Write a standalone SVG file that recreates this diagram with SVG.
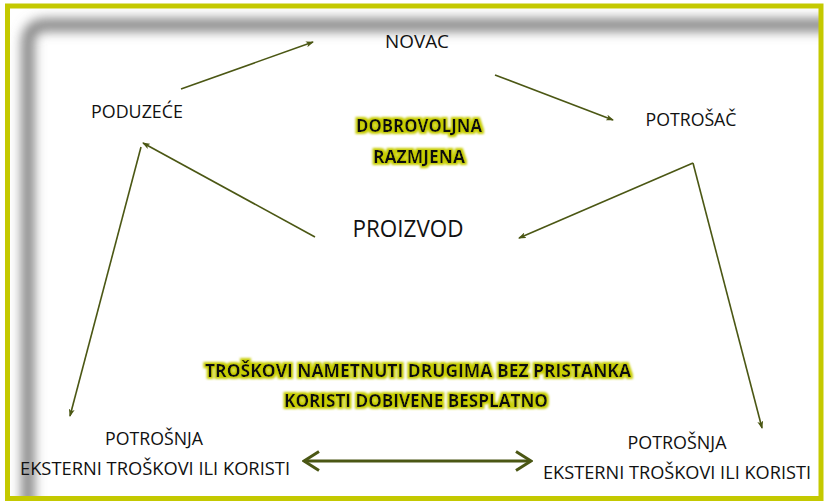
<svg xmlns="http://www.w3.org/2000/svg" width="824" height="502" viewBox="0 0 824 502">
  <style>
    .lbl { font-family: "Open Sans", Lato, "Liberation Sans", sans-serif; font-size: 17.5px; fill: #111; text-anchor: middle; }
    .big { font-size: 23px; }
    .hl { font-weight: bold; font-size: 17.5px; filter: url(#glow); }
    .conn { fill: none; stroke: #4b5714; stroke-width: 1.6; marker-end: url(#tip); }
    .dbl { fill: none; stroke: #4b5714; stroke-width: 3; marker-start: url(#chev); marker-end: url(#chev); }
  </style>
  <defs>
    <marker id="tip" markerUnits="userSpaceOnUse" viewBox="0 0 8 6" refX="7" refY="3" markerWidth="8" markerHeight="6" orient="auto">
      <path d="M0,0 L8,3 L0,6 L2,3 z" fill="#4b5714"/>
    </marker>
    <marker id="chev" markerUnits="userSpaceOnUse" viewBox="0 0 18 22" refX="16" refY="11" markerWidth="18" markerHeight="22" orient="auto-start-reverse">
      <path d="M1,1.5 L16,11 L1,20.5" fill="none" stroke="#4b5714" stroke-width="3"/>
    </marker>
    <filter id="glow" x="-10%" y="-40%" width="120%" height="180%">
      <feMorphology in="SourceAlpha" operator="dilate" radius="2" result="d"/>
      <feGaussianBlur in="d" stdDeviation="0.8" result="b"/>
      <feFlood flood-color="#c6cc00"/>
      <feComposite in2="b" operator="in" result="g"/>
      <feMerge><feMergeNode in="g"/><feMergeNode in="SourceGraphic"/></feMerge>
    </filter>
    <filter id="soft" x="-10%" y="-10%" width="120%" height="120%">
      <feGaussianBlur stdDeviation="6"/>
    </filter>
    <clipPath id="inner">
      <rect x="10" y="9" width="809" height="487"/>
    </clipPath>
  </defs>

  <!-- page background and inset shadow -->
  <rect width="824" height="502" fill="#fff"/>
  <g clip-path="url(#inner)">
    <path d="M840,25 H46 Q28,25 28,43 V520" fill="none" stroke="#7c7c7c" stroke-width="12" filter="url(#soft)"/>
  </g>
  <rect x="7.5" y="6" width="813.5" height="492.5" fill="none" stroke="#c4c900" stroke-width="5"/>

  <!-- connectors -->
  <g id="connectors">
    <path class="conn" d="M181,89 L313,42"/>
    <path class="conn" d="M495,75 L613,120"/>
    <path class="conn" d="M315,237 L143,143"/>
    <path class="conn" d="M141,147 L70,416"/>
    <path class="conn" d="M693,163 L519,238"/>
    <path class="conn" d="M693,163 L762,428"/>
    <path class="dbl" d="M304,461 L531,461"/>
  </g>

  <!-- nodes -->
  <g id="novac"><text class="lbl" x="417" y="48" textLength="64" lengthAdjust="spacingAndGlyphs">NOVAC</text></g>
  <g id="poduzece"><text class="lbl" x="137" y="118" textLength="92" lengthAdjust="spacingAndGlyphs">PODUZEĆE</text></g>
  <g id="potrosac"><text class="lbl" x="691" y="126" textLength="91" lengthAdjust="spacingAndGlyphs">POTROŠAČ</text></g>
  <g id="dobrovoljna">
    <text class="lbl hl" x="419" y="132" textLength="126" lengthAdjust="spacingAndGlyphs">DOBROVOLJNA</text>
    <text class="lbl hl" x="419" y="163" textLength="92" lengthAdjust="spacingAndGlyphs">RAZMJENA</text>
  </g>
  <g id="proizvod"><text class="lbl big" x="408" y="237" textLength="111" lengthAdjust="spacingAndGlyphs">PROIZVOD</text></g>
  <g id="eksternalije">
    <text class="lbl hl" x="418" y="377" textLength="426" lengthAdjust="spacingAndGlyphs">TROŠKOVI NAMETNUTI DRUGIMA BEZ PRISTANKA</text>
    <text class="lbl hl" x="416" y="407" textLength="264" lengthAdjust="spacingAndGlyphs">KORISTI DOBIVENE BESPLATNO</text>
  </g>
  <g id="potrosnja-lijevo">
    <text class="lbl" x="154" y="445" textLength="98" lengthAdjust="spacingAndGlyphs">POTROŠNJA</text>
    <text class="lbl" x="155" y="475" textLength="270" lengthAdjust="spacingAndGlyphs">EKSTERNI TROŠKOVI ILI KORISTI</text>
  </g>
  <g id="potrosnja-desno">
    <text class="lbl" x="677" y="449" textLength="99" lengthAdjust="spacingAndGlyphs">POTROŠNJA</text>
    <text class="lbl" x="677" y="479" textLength="268" lengthAdjust="spacingAndGlyphs">EKSTERNI TROŠKOVI ILI KORISTI</text>
  </g>
</svg>
